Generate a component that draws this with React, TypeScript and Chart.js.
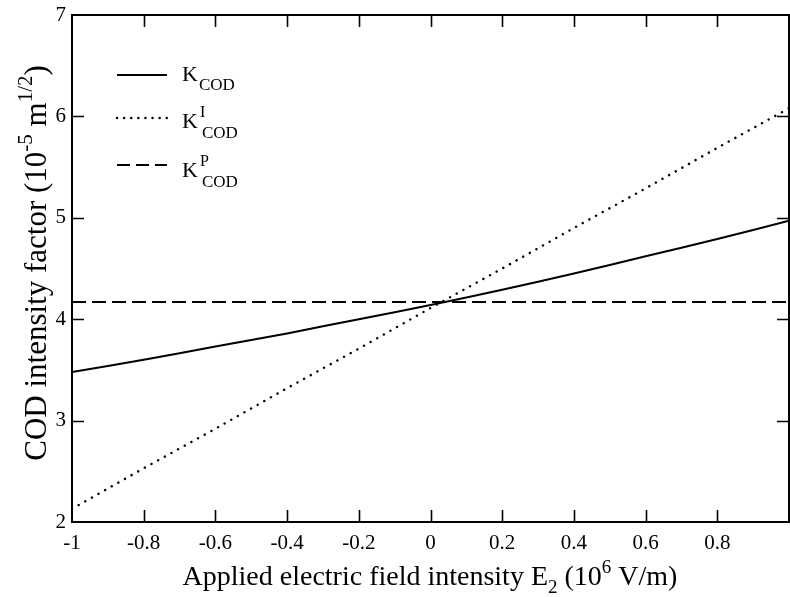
import React, { useEffect, useRef } from 'react';
import { Chart, registerables } from 'chart.js';

Chart.register(...registerables);

// ---- data ----
const fieldE2 = [-1, -0.8, -0.6, -0.4, -0.2, 0, 0.2, 0.4, 0.6, 0.8, 1];
const kCod = [3.48, 3.6, 3.73, 3.86, 4.0, 4.14, 4.29, 4.45, 4.62, 4.79, 4.97];
const kCodI = [2.13, 2.53, 2.92, 3.32, 3.71, 4.11, 4.5, 4.9, 5.29, 5.69, 6.08];
const kCodP = [4.17, 4.17, 4.17, 4.17, 4.17, 4.17, 4.17, 4.17, 4.17, 4.17, 4.17];

const xTickValues = [-1, -0.8, -0.6, -0.4, -0.2, 0, 0.2, 0.4, 0.6, 0.8];
const xTickLabels = ['-1', '-0.8', '-0.6', '-0.4', '-0.2', '0', '0.2', '0.4', '0.6', '0.8'];
const yTickValues = [2, 3, 4, 5, 6, 7];
const yTickLabels = ['2', '3', '4', '5', '6', '7'];

const FONT = '"Liberation Serif", "Times New Roman", serif';

type Part = { t: string; size: number; dy: number };

function drawRich(ctx: CanvasRenderingContext2D, parts: Part[], x: number, y: number, align: 'left' | 'center') {
  let w = 0;
  for (const p of parts) {
    ctx.font = `${p.size}px ${FONT}`;
    w += ctx.measureText(p.t).width;
  }
  let cx = align === 'center' ? x - w / 2 : x;
  ctx.textAlign = 'left';
  ctx.textBaseline = 'alphabetic';
  for (const p of parts) {
    ctx.font = `${p.size}px ${FONT}`;
    ctx.fillText(p.t, cx, y + p.dy);
    cx += ctx.measureText(p.t).width;
  }
}

const decorPlugin = {
  id: 'decor',
  afterDraw(chart: any) {
    const ctx: CanvasRenderingContext2D = chart.ctx;
    const { left, right, top, bottom } = chart.chartArea;
    const xs = chart.scales.x;
    const ys = chart.scales.y;
    ctx.save();
    ctx.strokeStyle = '#000';
    ctx.fillStyle = '#000';
    ctx.setLineDash([]);
    // frame
    ctx.lineWidth = 2;
    ctx.strokeRect(left, top, right - left, bottom - top);
    // inward ticks on all four sides
    const tl = 12;
    ctx.lineWidth = 1.6;
    ctx.beginPath();
    for (const v of xTickValues) {
      if (v <= -1 || v >= 1) continue;
      const px = Math.round(xs.getPixelForValue(v)) + 0.5;
      ctx.moveTo(px, bottom);
      ctx.lineTo(px, bottom - tl);
      ctx.moveTo(px, top);
      ctx.lineTo(px, top + tl);
    }
    for (const v of yTickValues) {
      if (v <= 2 || v >= 7) continue;
      const py = Math.round(ys.getPixelForValue(v)) + 0.5;
      ctx.moveTo(left, py);
      ctx.lineTo(left + tl, py);
      ctx.moveTo(right, py);
      ctx.lineTo(right - tl, py);
    }
    ctx.stroke();

    // legend
    const rows = [
      { y: 75, dash: [] as number[], cap: 'butt' as CanvasLineCap, w: 2, ky: 81 },
      { y: 118, dash: [0.1, 7], cap: 'round' as CanvasLineCap, w: 2.4, ky: 128 },
      { y: 165, dash: [13, 6], cap: 'butt' as CanvasLineCap, w: 2, ky: 177 },
    ];
    const sups = ['', 'I', 'P'];
    rows.forEach((r, i) => {
      ctx.lineWidth = r.w;
      ctx.lineCap = r.cap;
      ctx.setLineDash(r.dash);
      ctx.beginPath();
      ctx.moveTo(117, r.y);
      ctx.lineTo(167, r.y);
      ctx.stroke();
      ctx.setLineDash([]);
      ctx.lineCap = 'butt';
      ctx.textAlign = 'left';
      ctx.textBaseline = 'alphabetic';
      ctx.font = `22px ${FONT}`;
      const kx = 182;
      ctx.fillText('K', kx, r.ky);
      const kw = ctx.measureText('K').width;
      if (i === 0) {
        ctx.font = `17px ${FONT}`;
        ctx.fillText('COD', kx + kw + 1, r.ky + 9);
      } else {
        ctx.font = `16px ${FONT}`;
        ctx.fillText(sups[i], kx + kw + 2, r.ky - 11);
        ctx.font = `17px ${FONT}`;
        ctx.fillText('COD', kx + kw + 4, r.ky + 10);
      }
    });

    // x axis title
    drawRich(ctx, [
      { t: 'Applied electric field intensity E', size: 28, dy: 0 },
      { t: '2', size: 19, dy: 8 },
      { t: ' (10', size: 28, dy: 0 },
      { t: '6', size: 19, dy: -12 },
      { t: ' V/m)', size: 28, dy: 0 },
    ], 430, 585, 'center');

    // y axis title (rotated)
    ctx.save();
    ctx.translate(46, 263);
    ctx.rotate(-Math.PI / 2);
    drawRich(ctx, [
      { t: 'COD intensity factor (10', size: 31, dy: 0 },
      { t: '-5', size: 21, dy: -14 },
      { t: ' m', size: 31, dy: 0 },
      { t: '1/2', size: 21, dy: -14 },
      { t: ')', size: 31, dy: 0 },
    ], 0, 0, 'center');
    ctx.restore();

    ctx.restore();
  },
};

export default function App() {
  const ref = useRef<HTMLCanvasElement | null>(null);
  useEffect(() => {
    if (!ref.current) return;
    const mk = (ys: number[]) => fieldE2.map((x, i) => ({ x, y: ys[i] }));
    const chart = new Chart(ref.current, {
      type: 'line',
      data: {
        datasets: [
          { label: 'K_COD', data: mk(kCod), borderColor: '#000', borderWidth: 2, pointRadius: 0, tension: 0.3, fill: false },
          { label: 'K^I_COD', data: mk(kCodI), borderColor: '#000', borderWidth: 2.4, borderDash: [0.1, 7.5], borderCapStyle: 'round', pointRadius: 0, tension: 0, fill: false },
          { label: 'K^P_COD', data: mk(kCodP), borderColor: '#000', borderWidth: 2, borderDash: [14, 6], pointRadius: 0, tension: 0, fill: false },
        ],
      },
      options: {
        responsive: false,
        animation: false,
        layout: { padding: { top: 15, right: 1, left: 0, bottom: 0 } },
        plugins: { legend: { display: false }, tooltip: { enabled: false } },
        scales: {
          x: {
            type: 'linear',
            min: -1,
            max: 1,
            afterBuildTicks: (s: any) => { s.ticks = xTickValues.map((v) => ({ value: v })); },
            afterFit: (s: any) => { s.height = 75; s.paddingLeft = 0; s.paddingRight = 0; },
            ticks: {
              color: '#000',
              font: { family: FONT, size: 21 },
              padding: 9,
              maxRotation: 0,
              autoSkip: false,
              callback: (v: any) => { const i = xTickValues.indexOf(Number(v)); return i >= 0 ? xTickLabels[i] : ''; },
            },
            grid: { display: false, drawTicks: false },
            border: { display: false },
          },
          y: {
            type: 'linear',
            min: 2,
            max: 7,
            afterBuildTicks: (s: any) => { s.ticks = yTickValues.map((v) => ({ value: v })); },
            afterFit: (s: any) => { s.width = 72; s.paddingTop = 0; s.paddingBottom = 0; },
            ticks: {
              color: '#000',
              font: { family: FONT, size: 21 },
              padding: 6,
              autoSkip: false,
              callback: (v: any) => { const i = yTickValues.indexOf(Number(v)); return i >= 0 ? yTickLabels[i] : ''; },
            },
            grid: { display: false, drawTicks: false },
            border: { display: false },
          },
        },
      },
      plugins: [decorPlugin],
    } as any);
    return () => chart.destroy();
  }, []);
  return (
    <div style={{ position: 'absolute', left: 0, top: 0, width: 790, height: 597, background: '#fff' }}>
      <canvas ref={ref} width={790} height={597} />
    </div>
  );
}
